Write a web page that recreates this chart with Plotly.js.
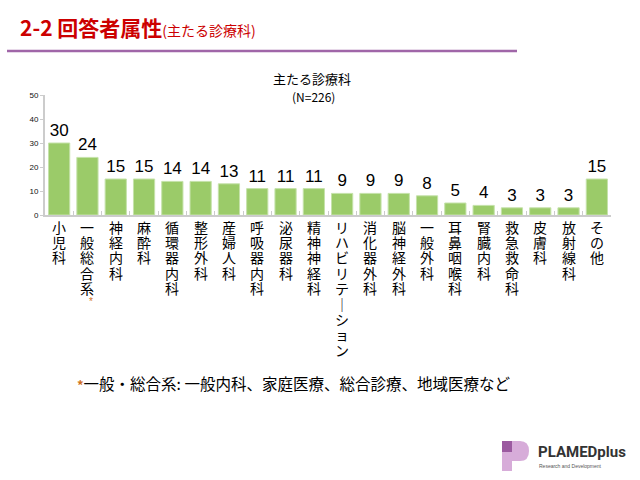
<!DOCTYPE html>
<html>
<head>
<meta charset="utf-8">
<script src="https://cdn.plot.ly/plotly-3.0.1.min.js"></script>
<style>html,body{margin:0;padding:0;background:#fff;}#chart{width:640px;height:480px;}</style>
</head>
<body>
<div id="chart"></div>
<script>
const categories = ["小児科","一般総合系","神経内科","麻酔科","循環器内科","整形外科","産婦人科","呼吸器内科","泌尿器科","精神神経科","リハビリテーション","消化器外科","脳神経外科","一般外科","耳鼻咽喉科","腎臓内科","救急救命科","皮膚科","放射線科","その他"];
const counts = [30,24,15,15,14,14,13,11,11,11,9,9,9,8,5,4,3,3,3,15];
const yTicks = [0,10,20,30,40,50];
const chartTitle = "主たる診療科";
const sampleNote = "(N=226)";
const header = "2-2 回答者属性";
const headerSub = "(主たる診療科)";
const footnote = "一般・総合系: 一般内科、家庭医療、総合診療、地域医療など";
const footnoteMark = "*";

const font = "Noto Sans CJK JP, Noto Sans, sans-serif";
const vfont = "Liberation Sans, Noto Sans CJK JP, sans-serif";

const px = v => (v-45)/566, py = v => (215-v)/120;

const trace = {
  type: 'bar',
  x: categories,
  y: counts,
  marker: {color: '#9bcb69', line: {color: '#c5e2aa', width: 1}},
  text: counts.map(String),
  textposition: 'outside',
  textfont: {size: 17, color: '#000', family: 'Liberation Sans, Arial, sans-serif'},
  cliponaxis: false,
  hoverinfo: 'none'
};

// vertical (top-to-bottom) category labels, one character per line
const labelAnns = [];
const lineStep = 15.4;
categories.forEach(cat => {
  cat.split('').forEach((ch, j) => {
    labelAnns.push({
      xref: 'x', yref: 'paper', x: cat, y: py(227.5 + j*lineStep),
      text: ch === 'ー' ? '｜' : ch, showarrow: false,
      font: {size: 14, color: '#000', family: vfont},
      xanchor: 'center', yanchor: 'middle'
    });
  });
  if (cat === "一般総合系") {
    labelAnns.push({
      xref: 'x', yref: 'paper', x: cat, xshift: 4, y: py(227.5 + cat.length*lineStep - 3),
      text: footnoteMark, showarrow: false,
      font: {size: 10, color: '#d07020', family: 'Liberation Sans, sans-serif'},
      xanchor: 'center', yanchor: 'middle'
    });
  }
});

const layout = {
  width: 640, height: 480,
  margin: {l: 45, r: 29, t: 95, b: 265},
  paper_bgcolor: '#fff', plot_bgcolor: '#fff',
  font: {family: font, color: '#000'},
  showlegend: false,
  bargap: 0.25,
  xaxis: {
    type: 'category',
    showticklabels: false,
    showline: true, linecolor: '#cccccc', linewidth: 2,
    ticks: 'inside', tickson: 'boundaries', ticklen: 4, tickcolor: '#cccccc', tickwidth: 1,
    showgrid: false, zeroline: false
  },
  yaxis: {
    range: [0, 50], tickvals: yTicks,
    tickfont: {size: 8, color: '#111', family: 'Liberation Sans, Arial, sans-serif'},
    showline: true, linecolor: '#cccccc', linewidth: 2,
    ticks: 'outside', ticklen: 3, tickcolor: '#cccccc',
    showgrid: false, zeroline: false
  },
  annotations: labelAnns.concat([
    {xref: 'paper', yref: 'paper', x: px(312), y: py(78), text: chartTitle, showarrow: false,
     font: {size: 13, color: '#000', family: font}, xanchor: 'center', yanchor: 'middle'},
    {xref: 'paper', yref: 'paper', x: px(313), y: py(96), text: sampleNote, showarrow: false,
     font: {size: 12, color: '#000', family: font}, xanchor: 'center', yanchor: 'middle'},
    {xref: 'paper', yref: 'paper', x: px(18), y: py(27), text: "<b>" + header + "</b>" + "<span style='font-size:14px'>" + headerSub + "</span>", showarrow: false,
     font: {size: 21, color: '#cc0000', family: font}, xanchor: 'left', yanchor: 'middle'},
    {xref: 'paper', yref: 'paper', x: px(75), y: py(383), text: "<span style='color:#d07020;font-size:13px'><b>" + footnoteMark + "</b></span>" + footnote, showarrow: false,
     font: {size: 15.5, color: '#000', family: font}, xanchor: 'left', yanchor: 'middle'},
    {xref: 'paper', yref: 'paper', x: px(536), y: py(452), text: "<b>PLAMEDplus</b>", showarrow: false,
     font: {size: 15, color: '#333', family: 'Roboto, Liberation Sans, sans-serif'}, xanchor: 'left', yanchor: 'middle'},
    {xref: 'paper', yref: 'paper', x: px(537), y: py(466), text: "Research and Development", showarrow: false,
     font: {size: 5, color: '#555', family: 'Liberation Sans, sans-serif'}, xanchor: 'left', yanchor: 'middle'}
  ]),
  shapes: [
    {type: 'line', xref: 'paper', yref: 'paper', x0: px(7), x1: px(517), y0: py(51), y1: py(51),
     line: {color: '#a066a8', width: 2.5}},
    {type: 'rect', xref: 'paper', yref: 'paper', x0: px(502), x1: px(512), y0: py(441), y1: py(452),
     fillcolor: '#9b5aa0', line: {width: 0}},
    {type: 'rect', xref: 'paper', yref: 'paper', x0: px(502), x1: px(512), y0: py(452), y1: py(471),
     fillcolor: '#d7acd9', line: {width: 0}},
    {type: 'path', xref: 'paper', yref: 'paper',
     path: `M ${px(512)} ${py(441)} L ${px(520)} ${py(441)} Q ${px(529)} ${py(441)} ${px(529)} ${py(451)} Q ${px(529)} ${py(461)} ${px(520)} ${py(461)} L ${px(512)} ${py(461)} Z`,
     fillcolor: '#d7acd9', line: {width: 0}}
  ]
};

Plotly.newPlot('chart', [trace], layout, {displayModeBar: false, staticPlot: true});
</script>
</body>
</html>
